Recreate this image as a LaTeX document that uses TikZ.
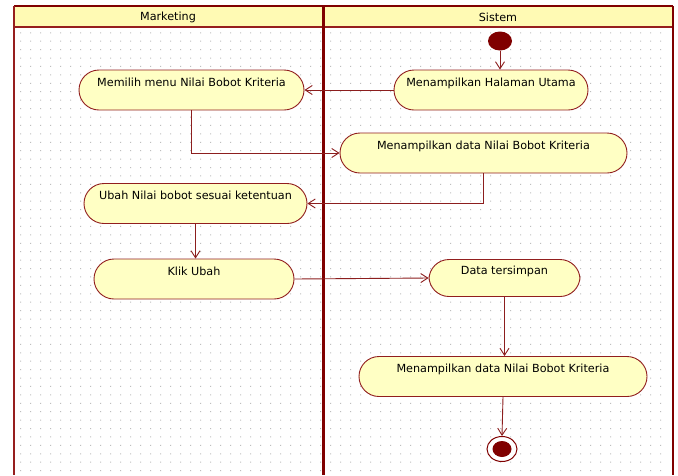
\documentclass[tikz,border=0pt]{standalone}
\usepackage{fontspec}
\setmainfont{DejaVu Sans}
\usetikzlibrary{arrows.meta,shapes.geometric}
\definecolor{lanered}{RGB}{128,0,0}
\definecolor{laneedge}{RGB}{150,30,30}
\definecolor{edgered}{RGB}{140,30,30}
\definecolor{nodeborder}{RGB}{145,30,30}
\definecolor{nodefill}{RGB}{255,255,196}
\definecolor{headfill}{RGB}{255,250,180}
\definecolor{griddot}{RGB}{190,190,190}
\begin{document}
\begin{tikzpicture}[x=1pt,y=-1pt,
  act/.style={draw=nodeborder, line width=0.9pt, fill=nodefill, rounded corners=20pt,
    minimum height=40pt, inner sep=0pt, text height=9pt, text depth=17pt,
    font=\fontsize{11.2}{13}\selectfont, text=black},
  flow/.style={draw=edgered, line width=0.9pt, -{Straight Barb[length=7pt,width=9pt]}},
  lanehead/.style={font=\fontsize{11.2}{13}\selectfont, text=black, inner sep=0pt},
  startst/.style={ellipse, fill=lanered, minimum width=24pt, minimum height=19pt, inner sep=0pt},
  endst/.style={ellipse, draw=lanered, line width=1pt, fill=white, minimum width=30pt, minimum height=25pt, inner sep=0pt},
]
\useasboundingbox (0,0) rectangle (678,475);
\fill[white] (0,0) rectangle (678,475);
% dot grid
\fill[griddot] \foreach \i in {0,...,64} { \foreach \j in {0,...,52} {
   ({20+10*\i},{32.3+8.42*\j}) rectangle ++(1,1) } };
% lanes
\fill[headfill] (14,6) rectangle (673,27);
\draw[laneedge, line width=1.2pt] (14,27) -- (673,27);
\draw[lanered, line width=2pt] (14,6) -- (673,6);
\draw[laneedge, line width=2pt] (14,6) -- (14,475);
\draw[lanered, line width=1.6pt] (673,6) -- (673,475);
\draw[lanered, line width=3.6pt] (323.5,6) -- (323.5,475);
\node[lanehead] (hm) at (168,17) {Marketing};
\node[lanehead] (hs) at (498,17) {Sistem};
% nodes
\node[startst] (start) at (500,41) {};
\node[act, minimum width=194pt] (n2) at (491,90) {Menampilkan Halaman Utama};
\node[act, minimum width=225pt] (n1) at (191.5,90) {Memilih menu Nilai Bobot Kriteria};
\node[act, minimum width=287pt] (n3) at (483.5,153) {Menampilkan data Nilai Bobot Kriteria};
\node[act, minimum width=223pt] (n5) at (195.5,203.5) {Ubah Nilai bobot sesuai ketentuan};
\node[act, minimum width=200pt] (n6) at (194,279) {Klik Ubah};
\node[act, minimum width=151pt, minimum height=37pt] (n7) at (504.5,278) {Data tersimpan};
\node[act, minimum width=288pt] (n8) at (503,376.5) {Menampilkan data Nilai Bobot Kriteria};
\node[endst] (end) at (502,449) {};
\node[ellipse, fill=lanered, minimum width=19pt, minimum height=16pt, inner sep=0pt] (endin) at (end.center) {};
% flows
\draw[flow] (start) -- (start |- n2.north);
\draw[flow] (n2.west) -- (n1.east);
\draw[flow] (n1.south) |- (n3.west);
\draw[flow] (n3.south) |- (n5.east);
\draw[flow] (n5.south) -- (n5.south |- n6.north);
\draw[flow] (n6.east) -- (n7.west);
\draw[flow] (n7.south) -- (n7.south |- n8.north);
\draw[flow] (n8.south) -- (end.north);
\end{tikzpicture}
\end{document}
